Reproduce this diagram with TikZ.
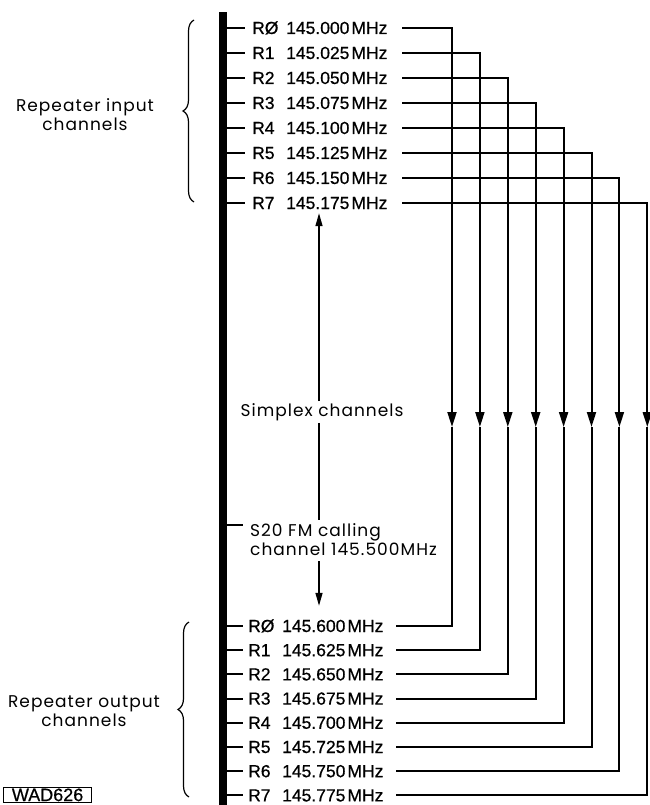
\documentclass[tikz,border=0pt]{standalone}
\usepackage{fontspec}
\setmainfont{Liberation Sans}[FakeBold=0.6]
\newfontfamily\labelfont{Poppins}[LetterSpace=6]
\usetikzlibrary{arrows.meta, positioning, calc, decorations.pathreplacing}

\begin{document}
\begin{tikzpicture}[
    x=1pt, y=-1pt,
    font=\fontsize{17.5}{19}\selectfont,
    >={Triangle[length=15pt, width=9pt]},
    wire/.style={line width=2pt},
    stub/.style={line width=2pt},
    freq/.style={anchor=west, inner sep=0pt, text width=144pt, align=left, text height=12pt, text depth=0pt},
    lbl/.style={font=\labelfont\fontsize{17}{19}\selectfont, align=center},
    curly/.style={decorate, decoration={brace, amplitude=11pt}, line width=1.2pt},
    sarrow/.style={line width=1.5pt, -{Triangle[length=13pt, width=7pt]}},
]
    \useasboundingbox (0,0) rectangle (649,805);

    % Channel bar
    \fill (219,12) rectangle (227,805);
    \coordinate (sx) at (319,0);

    % Input rows
    \foreach \i/\ch/\f in {0/RØ/000, 1/R1/025, 2/R2/050, 3/R3/075, 4/R4/100, 5/R5/125, 6/R6/150, 7/R7/175} {
        \pgfmathsetmacro\yy{28+25*\i}
        \draw[stub] (227,\yy) -- (245,\yy);
        \node[freq] (in\i) at (252,\yy) {\makebox[34pt][l]{\ch}145.\f\hspace{2pt}MHz};
    }

    % Output rows
    \foreach \i/\ch/\f in {0/RØ/600, 1/R1/625, 2/R2/650, 3/R3/675, 4/R4/700, 5/R5/725, 6/R6/750, 7/R7/775} {
        \pgfmathsetmacro\yy{626+24.2*\i}
        \draw[stub] (227,\yy) -- (243,\yy);
        \node[freq] (out\i) at (248,\yy) {\makebox[34pt][l]{\ch}145.\f\hspace{2pt}MHz};
    }

    % Repeater pairs
    \foreach \i in {0,...,7} {
        \pgfmathsetmacro\xx{452+27.9*\i}
        \coordinate (mid\i) at (\xx,427);
        \draw[wire, ->] ([xshift=6pt]in\i.east) -| (mid\i);
        \draw[wire] (mid\i) |- ([xshift=4pt]out\i.east);
    }

    % Simplex part
    \node[lbl, inner sep=2pt] (simplex) at (322,412) {Simplex channels};
    \draw[stub] (227,525) -- (243,525);
    \node[lbl, anchor=west, align=left, inner sep=0pt] (s20) at (250,540) {S20 FM calling\\channel 145.500MHz};
    \draw[sarrow] (simplex.north -| sx) -- ([yshift=-4pt]in7.south -| sx);
    \draw[line width=1.5pt] (simplex.south -| sx) -- ([yshift=4pt]s20.north -| sx);
    \draw[sarrow] ([yshift=-5pt]s20.south -| sx) -- ([yshift=14pt]out0.north -| sx);

    % Braces
    \draw[curly] (194,202) -- (194,20);
    \draw[curly] (189,797) -- (189,622);
    \node[lbl] (inlbl) at (85,115) {Repeater input\\channels};
    \node[lbl] (outlbl) at (84,711) {Repeater output\\channels};

    \node[draw, line width=1.2pt, inner sep=1pt, text height=12.5pt, text depth=0pt, anchor=north west, minimum width=88pt, font=\fontsize{18}{19}\selectfont] (wad) at (3,787) {WAD626};
\end{tikzpicture}
\end{document}
